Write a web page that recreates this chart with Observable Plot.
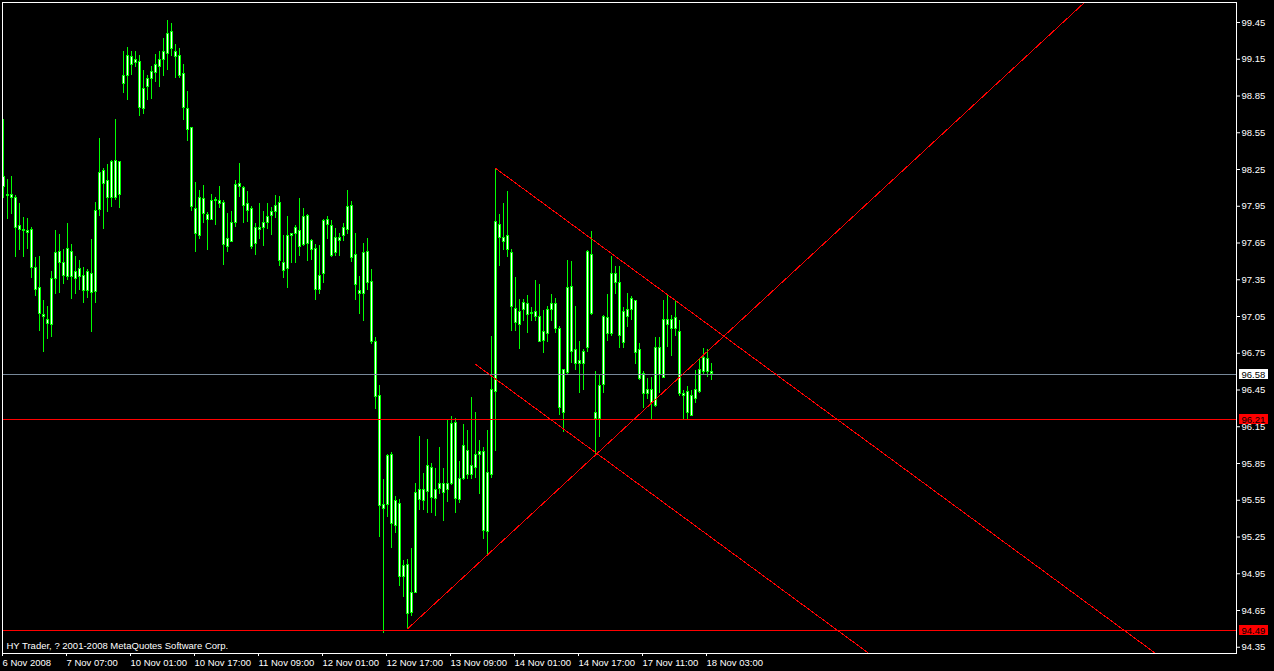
<!DOCTYPE html>
<html>
<head>
<meta charset="utf-8">
<script src="https://cdn.jsdelivr.net/npm/d3@7"></script>
<script src="https://cdn.jsdelivr.net/npm/@observablehq/plot@0.6"></script>
<style>
  html, body { margin: 0; padding: 0; background: #000; }
  #chart { width: 1274px; height: 671px; overflow: hidden; }
</style>
</head>
<body>
<div id="chart"></div>
<script>
// ---- Data (H1 candles) ----
const opens = [
98.19,98.04,98.04,98.02,97.76,97.76,97.75,97.76,97.45,97.28,
97.06,97.02,96.98,97.36,97.58,97.49,97.37,97.58,97.36,97.44,
97.38,97.26,97.40,97.25,97.92,98.24,98.16,98.02,98.32,98.04,
98.95,99.01,99.17,99.12,99.13,98.74,98.92,98.99,99.04,99.09,
99.14,99.19,99.37,99.21,99.18,99.03,98.74,98.59,97.93,97.71,
98.01,97.88,97.84,97.99,97.99,97.98,97.62,97.66,97.81,98.11,
98.10,97.97,97.93,97.64,97.77,97.77,97.81,97.87,97.90,97.98,
97.49,97.44,97.71,97.72,97.75,97.63,97.87,97.67,97.60,97.27,
97.40,97.84,97.79,97.57,97.69,97.71,97.76,97.95,97.55,97.26,
97.23,97.58,97.33,96.84,96.40,95.51,95.51,95.92,95.34,95.52,
94.92,95.02,94.63,94.79,95.63,95.54,95.62,95.81,95.56,95.64,
95.68,95.63,95.68,96.18,95.55,95.72,95.95,95.76,95.81,95.92,
95.94,95.29,95.76,96.43,97.80,97.69,97.71,97.57,97.11,96.98,
97.10,97.15,97.07,97.05,97.05,96.85,96.91,97.10,97.15,96.95,
96.26,96.59,97.29,96.78,96.66,96.66,96.79,97.55,96.26,96.21,
96.49,97.04,96.91,97.40,97.32,96.83,97.10,97.10,97.18,96.78,
96.58,96.42,96.45,96.32,96.79,96.55,97.02,97.02,96.95,96.92,
96.42,96.43,96.24,96.38,96.43,96.60,96.70,96.60
];
const highs = [
98.66,98.17,98.19,98.04,97.97,97.86,97.85,97.78,97.53,97.54,
97.18,97.13,97.42,97.75,97.72,97.60,97.81,97.64,97.54,97.51,
97.45,97.43,97.68,97.98,98.50,98.26,98.29,98.32,98.66,98.31,
99.21,99.25,99.21,99.21,99.18,99.06,99.02,99.09,99.19,99.21,
99.32,99.47,99.44,99.27,99.24,99.11,98.89,98.59,98.14,98.08,
98.12,97.90,98.05,98.02,98.11,98.00,97.89,97.91,98.16,98.30,
98.11,98.07,97.95,97.81,97.97,97.91,97.97,97.94,98.04,98.03,
97.71,97.87,97.73,97.79,98.01,97.93,97.88,97.68,97.64,97.63,
97.84,97.87,97.83,97.77,97.73,97.81,98.08,97.99,97.73,97.38,
97.65,97.69,97.43,96.88,96.49,95.72,95.92,95.94,95.58,95.56,
95.06,95.07,95.16,95.69,96.07,95.77,96.05,95.85,95.81,95.98,
95.81,96.20,96.23,96.22,95.87,96.17,96.12,96.39,96.27,96.04,
95.98,96.12,96.89,98.26,97.88,97.97,98.07,97.60,97.37,97.19,
97.19,97.22,97.12,97.34,97.31,97.10,97.13,97.23,97.20,96.97,
96.61,97.51,97.50,97.13,96.85,96.78,97.59,97.74,96.60,96.57,
97.06,97.23,97.54,97.46,97.46,97.12,97.24,97.21,97.18,96.83,
96.60,96.54,96.55,96.88,96.88,97.18,97.23,97.06,97.18,97.02,
96.45,96.48,96.45,96.61,96.70,96.79,96.78,96.67
];
const lows = [
98.01,97.84,97.88,97.53,97.59,97.53,97.60,97.36,97.21,96.93,
96.76,96.86,96.88,97.23,97.24,97.31,97.34,97.19,97.23,97.26,
97.16,97.20,96.92,97.16,97.87,97.76,97.90,97.94,98.00,97.93,
98.87,98.81,99.02,99.08,98.68,98.70,98.81,98.82,98.96,98.92,
99.01,99.06,99.17,98.99,98.99,98.65,98.48,97.91,97.57,97.68,
97.81,97.59,97.83,97.79,97.93,97.47,97.57,97.66,97.78,98.02,
97.81,97.82,97.60,97.55,97.68,97.62,97.76,97.71,97.85,97.46,
97.36,97.28,97.48,97.48,97.54,97.62,97.50,97.51,97.18,97.23,
97.32,97.68,97.53,97.54,97.54,97.66,97.72,97.49,97.18,97.07,
97.01,97.26,96.82,96.29,95.25,94.46,95.41,95.16,95.28,94.85,
94.76,94.50,94.60,94.79,95.47,95.47,95.44,95.44,95.42,95.60,
95.38,95.53,95.67,95.44,95.52,95.71,95.72,95.72,95.73,95.60,
95.23,95.09,95.73,95.95,97.46,97.59,97.53,96.93,96.93,96.78,
97.01,96.91,97.01,97.01,96.84,96.75,96.84,97.01,96.91,96.24,
96.10,96.58,96.67,96.61,96.42,96.45,96.76,97.06,95.91,96.06,
96.42,96.85,96.89,97.23,96.79,96.79,96.96,97.02,96.66,96.53,
96.30,96.37,96.21,96.31,96.42,96.54,96.80,96.72,96.89,96.40,
96.21,96.21,96.24,96.34,96.42,96.58,96.55,96.53
];
const closes = [
98.11,98.03,98.02,97.77,97.79,97.75,97.73,97.45,97.27,97.07,
97.05,96.99,97.36,97.57,97.49,97.38,97.60,97.37,97.41,97.37,
97.26,97.41,97.24,97.91,98.22,98.13,98.02,98.31,98.02,98.31,
99.01,99.18,99.10,99.14,98.75,98.91,98.99,99.05,99.10,99.14,
99.21,99.36,99.23,99.17,99.01,98.75,98.57,97.94,97.72,98.02,
97.89,97.84,97.99,98.00,97.97,97.63,97.68,97.81,98.12,98.13,
97.95,97.91,97.62,97.77,97.76,97.81,97.86,97.90,97.95,97.50,
97.42,97.71,97.72,97.77,97.62,97.86,97.64,97.59,97.27,97.38,
97.83,97.80,97.54,97.69,97.67,97.77,97.94,97.53,97.31,97.23,
97.57,97.32,96.84,96.39,95.50,95.48,95.91,95.36,95.54,94.92,
95.01,94.62,94.79,95.61,95.55,95.63,95.83,95.57,95.63,95.68,
95.61,95.68,96.17,95.56,95.72,95.99,95.76,95.83,95.92,95.94,
95.30,95.77,96.45,97.82,97.69,97.66,97.59,97.13,97.00,97.09,
97.16,97.06,97.08,97.09,96.84,96.92,97.10,97.15,96.95,96.30,
96.61,97.28,96.76,96.66,96.69,96.76,97.58,97.07,96.21,96.48,
97.05,96.91,97.40,97.32,96.89,97.09,97.05,97.19,96.75,96.54,
96.42,96.45,96.34,96.79,96.57,97.02,96.98,96.95,97.04,96.42,
96.40,96.26,96.40,96.45,96.61,96.71,96.60,96.58
];

// Time-axis labels (every 16 H1 bars) and the bar each one sits on
const xTickBars = [0, 16, 32, 48, 64, 80, 96, 112, 128, 144, 160, 176];
const xTickLabels = [
  "6 Nov 2008", "7 Nov 07:00", "10 Nov 01:00", "10 Nov 17:00", "11 Nov 09:00",
  "12 Nov 01:00", "12 Nov 17:00", "13 Nov 09:00", "14 Nov 01:00", "14 Nov 17:00",
  "17 Nov 11:00", "18 Nov 03:00"
];
// Price-axis tick labels
const priceTicks = [94.35, 94.65, 94.95, 95.25, 95.55, 95.85, 96.15, 96.45, 96.75,
  97.05, 97.35, 97.65, 97.95, 98.25, 98.55, 98.85, 99.15, 99.45];

// Bid line and user horizontal lines
const bidPrice = 96.58;
const horizontalLevels = [96.21, 94.49];

// Trendlines (rays): two anchor points each, bar index + price
const trendNames = ["support", "resistance", "lower"];
const trendBar1 = [101, 123, 118];
const trendPrice1 = [94.50, 98.26, 96.66];
const trendBar2 = [148, 168, 168];
const trendPrice2 = [95.92, 97.18, 95.46];

const copyright = "HY Trader, ? 2001-2008 MetaQuotes Software Corp.";

// ---- Build tables ----
const candles = opens.map((o, k) => ({i: k, open: o, high: highs[k], low: lows[k], close: closes[k]}));
const rayEnd = 400;
const trendPoints = trendNames.flatMap((name, k) => {
  const slope = (trendPrice2[k] - trendPrice1[k]) / (trendBar2[k] - trendBar1[k]);
  return [
    {name, i: trendBar1[k], v: trendPrice1[k]},
    {name, i: rayEnd, v: trendPrice1[k] + slope * (rayEnd - trendBar1[k])}
  ];
});
const priceBoxes = [
  {v: bidPrice, bg: "#ffffff", fg: "#000000"},
  ...horizontalLevels.map(v => ({v, bg: "#ff0000", fg: "#000000"}))
];

const LIME = "#00ff00";
const chart = Plot.plot({
  width: 1274,
  height: 671,
  marginLeft: 2,
  marginRight: 38,
  marginTop: 2,
  marginBottom: 18,
  style: {
    background: "#000000",
    color: "#ffffff",
    fontFamily: "'Liberation Sans', Arial, sans-serif",
    fontSize: "9.5px"
  },
  x: {type: "linear", domain: [-0.25, 308.25]},
  y: {type: "linear", domain: [94.299, 99.6133]},
  marks: [
    // wicks then bodies
    Plot.ruleX(candles, {x: "i", y1: "low", y2: "high", stroke: LIME, shapeRendering: "crispEdges"}),
    Plot.rect(candles, {
      x1: d => d.i - 0.25, x2: d => d.i + 0.25, y1: "open", y2: "close",
      fill: "#ffffff", stroke: LIME, strokeWidth: 1, shapeRendering: "crispEdges"
    }),
    Plot.ruleY([bidPrice], {stroke: "#778899", shapeRendering: "crispEdges"}),
    Plot.ruleY(horizontalLevels, {stroke: "#ff0000", shapeRendering: "crispEdges"}),
    Plot.line(trendPoints, {x: "i", y: "v", z: "name", stroke: "#ff0000", strokeWidth: 1, clip: true, shapeRendering: "crispEdges"}),
    Plot.text([copyright], {
      text: d => d, frameAnchor: "bottom-left", dx: 4, dy: -5,
      textAnchor: "start", lineAnchor: "bottom", fill: "#ffffff"
    }),
    Plot.frame({stroke: "#ffffff", shapeRendering: "crispEdges"}),
    Plot.axisY(priceTicks, {
      anchor: "right", tickSize: 3, tickPadding: 2, label: null,
      tickFormat: d => d.toFixed(2)
    }),
    Plot.axisX(xTickBars, {
      anchor: "bottom", tickSize: 3, tickPadding: 3, label: null,
      tickFormat: d => xTickLabels[xTickBars.indexOf(d)],
      textAnchor: "start", dx: -1
    }),
    // price label boxes on the right scale
    (index, scales, values, dimensions) => {
      const g = d3.create("svg:g").attr("text-anchor", "start");
      const x0 = dimensions.width - dimensions.marginRight;
      for (const b of priceBoxes) {
        const y = Math.round(scales.y(b.v));
        g.append("rect")
          .attr("x", x0 + 3).attr("y", y - 5)
          .attr("width", 29).attr("height", 10)
          .attr("fill", b.bg);
        g.append("text")
          .attr("x", x0 + 5.5).attr("y", y + 0.5).attr("dy", "0.34em")
          .attr("text-anchor", "start")
          .attr("fill", b.fg)
          .text(b.v.toFixed(2));
      }
      return g.node();
    }
  ]
});
document.getElementById("chart").appendChild(chart);
</script>
</body>
</html>
